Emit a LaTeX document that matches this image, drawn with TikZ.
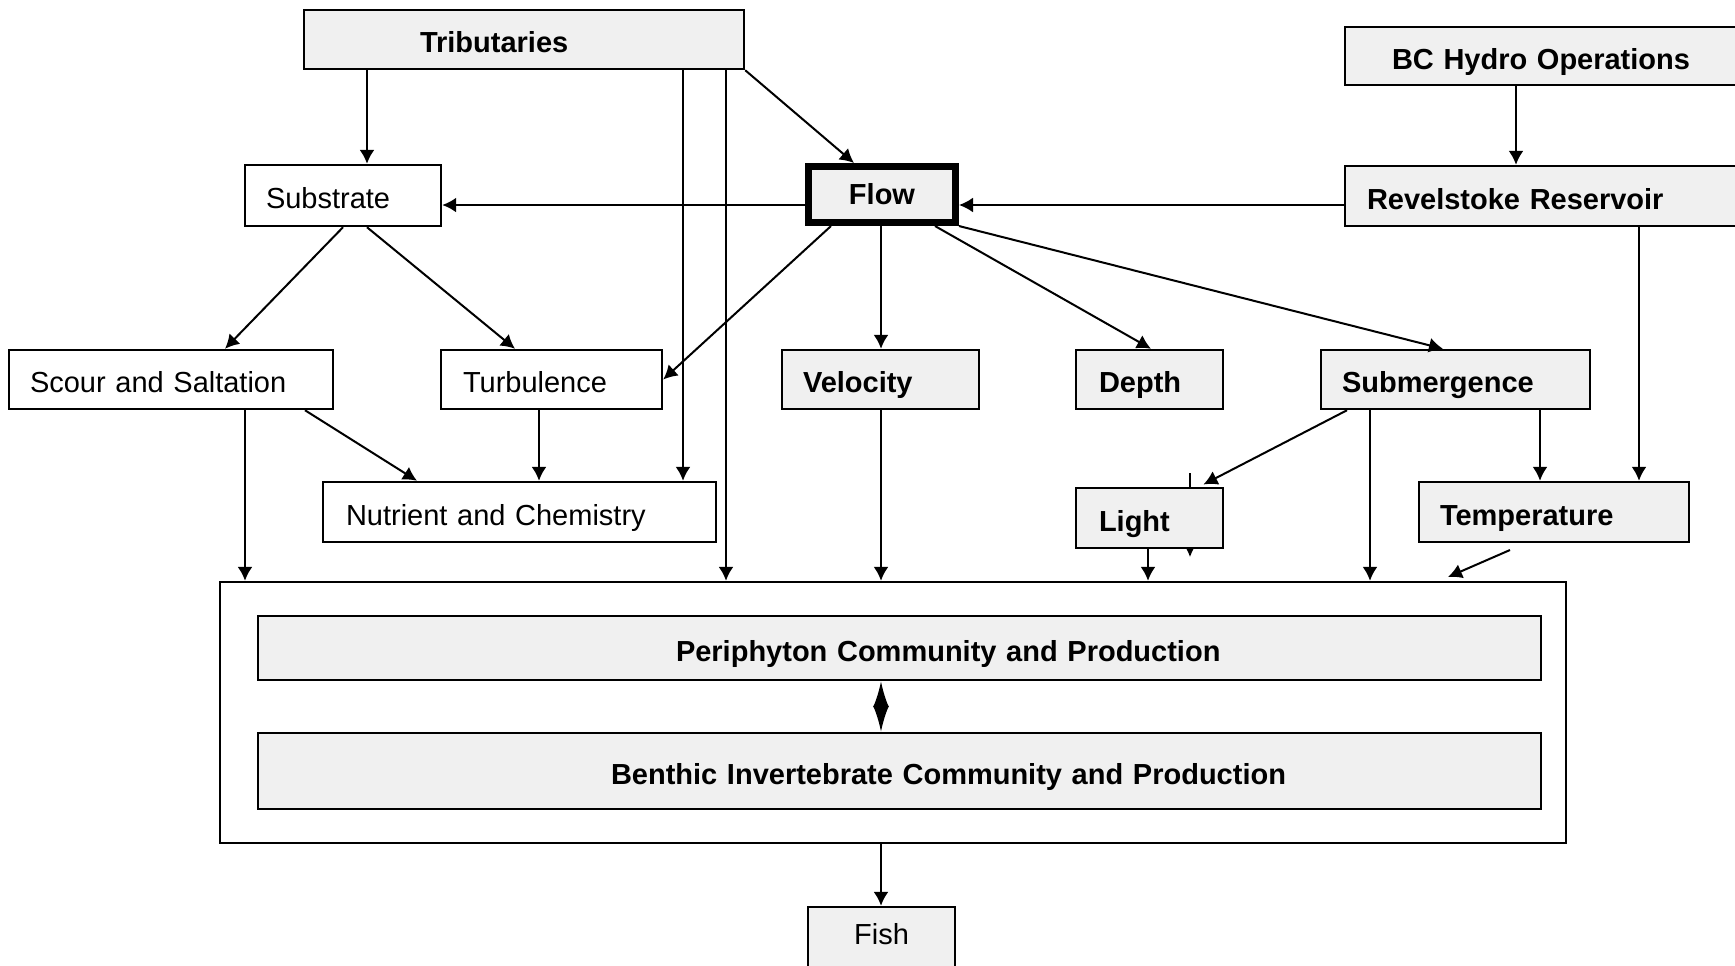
\documentclass[tikz,border=0pt]{standalone}
\usepackage{fontspec}
\setmainfont{Liberation Sans}
\usetikzlibrary{arrows.meta}
\definecolor{boxgray}{RGB}{240,240,240}
\tikzset{
  box/.style={draw, line width=0.7pt, fill=white, inner xsep=0pt, inner ysep=0pt, align=left, text height=7.8pt, text depth=0.4pt, font=\fontsize{8.25}{10}\selectfont},
  gbox/.style={box, fill=boxgray, font=\fontsize{8.25}{10}\selectfont\bfseries},
  arr/.style={-{Latex[length=1.4mm,width=1.5mm]}, line width=0.57pt},
  duoarr/.style={{Latex[length=2.6mm,width=1.6mm]}-{Latex[length=2.6mm,width=1.6mm]}, line width=0.57pt},
}

\begin{document}
\begin{tikzpicture}[x=0.1mm, y=-0.1mm]
\clip (0,0) rectangle (1735,965);

% stray tick behind the Light box
\coordinate (lt) at (1190,473);
\coordinate (lb) at (1190,557);
\draw[arr] (lt) -- (lb);

% boxes
\node[gbox, text width=44mm, minimum height=5.9mm] (trib) at (524,39.5) {\hspace*{11.6mm}Tributaries};
\node[gbox, text width=40mm, minimum height=5.8mm] (bch) at (1545,56) {\hspace*{4.7mm}BC Hydro Operations};
\node[box, text width=19.6mm, minimum height=6.1mm] (sub) at (343,195.5) {\hspace*{2.1mm}Substrate};
\node[gbox, line width=2pt, align=center, text height=, text depth=, text width=14.7mm, minimum height=5.6mm] (flow) at (882,194.5) {Flow};
\node[gbox, text width=40mm, minimum height=6mm] (rev) at (1545,196) {\hspace*{2.2mm}Revelstoke Reservoir};
\node[box, text width=32.4mm, minimum height=5.9mm] (scour) at (171,379.5) {\hspace*{2.1mm}Scour and Saltation};
\node[box, text width=22.1mm, minimum height=5.9mm] (turb) at (551.5,379.5) {\hspace*{2.2mm}Turbulence};
\node[gbox, text width=19.7mm, minimum height=5.9mm] (vel) at (880.5,379.5) {\hspace*{2.1mm}Velocity};
\node[gbox, text width=14.7mm, minimum height=5.9mm] (depth) at (1149.5,379.5) {\hspace*{2.3mm}Depth};
\node[gbox, text width=26.9mm, minimum height=5.9mm] (subm) at (1455.5,379.5) {\hspace*{2.1mm}Submergence};
\node[box, text width=39.3mm, minimum height=6mm] (nutr) at (519.5,512) {\hspace*{2.3mm}Nutrient and Chemistry};
\node[gbox, text width=14.7mm, minimum height=6mm] (light) at (1149.5,518) {\hspace*{2.3mm}Light};
\node[gbox, text width=27mm, minimum height=6mm] (temp) at (1554,512) {\hspace*{2.1mm}Temperature};
\node[box, minimum width=134.6mm, minimum height=26.1mm] (cont) at (893,712.5) {};
\node[gbox, text width=128.3mm, minimum height=6.4mm] (peri) at (899.5,648) {\hspace*{41.8mm}Periphyton Community and Production};
\node[gbox, text width=128.3mm, minimum height=7.6mm] (bent) at (899.5,771) {\hspace*{35.3mm}Benthic Invertebrate Community and Production};
\node[gbox, font=\fontsize{8.25}{10}\selectfont, align=center, text height=, text depth=2pt, text width=14.7mm, minimum height=6.1mm] (fish) at (881.5,937.5) {Fish};

% connectors
\draw[arr] (367,0 |- trib.south) -- (367,0 |- sub.north);
\draw[arr] (683,0 |- trib.south) -- (683,0 |- nutr.north);
\draw[arr] (726,0 |- trib.south) -- (726,0 |- cont.north);
\draw[arr] (trib.south east) -- (854,0 |- flow.north);
\draw[arr] (1516,0 |- bch.south) -- (1516,0 |- rev.north);
\draw[arr] (0,205 -| rev.west) -- (0,205 -| flow.east);
\draw[arr] (0,205 -| flow.west) -- (0,205 -| sub.east);
\draw[arr] (831,0 |- flow.south) -- (turb.east);
\draw[arr] (881,0 |- flow.south) -- (881,0 |- vel.north);
\draw[arr] (935,0 |- flow.south) -- (1151,0 |- depth.north);
\draw[arr] (flow.south east) -- (1443,0 |- subm.north);
\draw[arr] (sub.south) -- (225,0 |- scour.north);
\draw[arr] (367,0 |- sub.south) -- (515,0 |- turb.north);
\draw[arr] (245,0 |- scour.south) -- (245,0 |- cont.north);
\draw[arr] (305,0 |- scour.south) -- (417,0 |- nutr.north);
\draw[arr] (539,0 |- turb.south) -- (539,0 |- nutr.north);
\draw[arr] (881,0 |- vel.south) -- (881,0 |- cont.north);
\draw[arr, shorten >=0.5mm] (1347,0 |- subm.south) -- (1199,0 |- light.north);
\draw[arr] (1370,0 |- subm.south) -- (1370,0 |- cont.north);
\draw[arr] (1540,0 |- subm.south) -- (1540,0 |- temp.north);
\draw[arr] (1639,0 |- rev.south) -- (1639,0 |- temp.north);
\draw[arr] (1148,0 |- light.south) -- (1148,0 |- cont.north);
\coordinate (tempfrom) at (1510,550);
\coordinate (tempto) at (1448,577);
\draw[arr] (tempfrom) -- (tempto);
\draw[duoarr] (881,0 |- peri.south) -- (881,0 |- bent.north);
\draw[arr] (881,0 |- cont.south) -- (881,0 |- fish.north);
\end{tikzpicture}
\end{document}
